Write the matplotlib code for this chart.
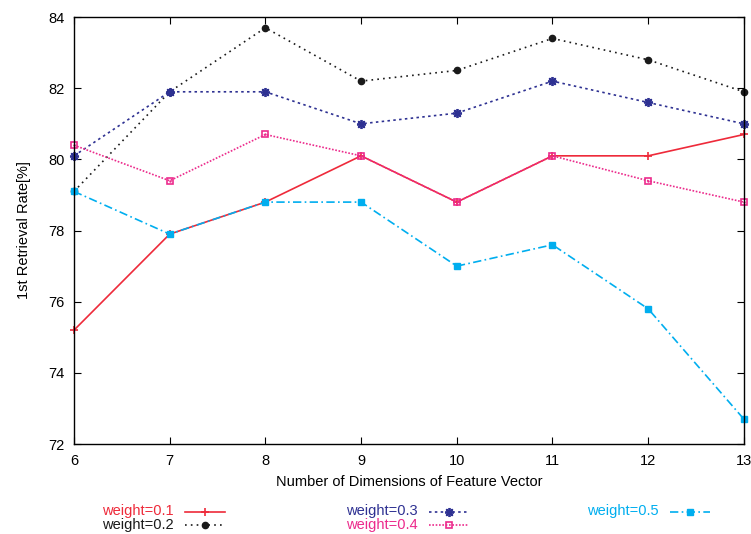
import matplotlib
matplotlib.use("Agg")
import matplotlib.pyplot as plt
from matplotlib.lines import Line2D

plt.rcParams['font.family'] = ['Liberation Sans', 'DejaVu Sans']

dims = [6, 7, 8, 9, 10, 11, 12, 13]
w01 = [75.2, 77.9, 78.8, 80.1, 78.8, 80.1, 80.1, 80.7]
w02 = [79.1, 81.9, 83.7, 82.2, 82.5, 83.4, 82.8, 81.9]
w03 = [80.1, 81.9, 81.9, 81.0, 81.3, 82.2, 81.6, 81.0]
w04 = [80.4, 79.4, 80.7, 80.1, 78.8, 80.1, 79.4, 78.8]
w05 = [79.1, 77.9, 78.8, 78.8, 77.0, 77.6, 75.8, 72.7]
labels = ['weight=0.1', 'weight=0.2', 'weight=0.3', 'weight=0.4', 'weight=0.5']

# colour, linestyle, marker, marker options
styles = [
    ('#ee2a3a', '-', '+', dict(markersize=6, markeredgewidth=1.2)),
    ('#1a1a1a', (0, (1, 2.5)), 'o', dict(markersize=4.5)),
    ('#2e3192', (0, (1.5, 2)), (8, 2, 0), dict(markersize=6.5, markeredgewidth=1.3)),
    ('#ec2b8c', (0, (1, 1)), 's', dict(markersize=5, markerfacecolor='none', markeredgewidth=1.2)),
    ('#00aeef', (0, (5, 2, 1, 2)), 's', dict(markersize=5)),
]

fig = plt.figure(figsize=(7.51, 5.34), dpi=100)
ax = fig.add_axes([0.0985, 0.1685, 0.892, 0.7995])

series = [w01, w02, w03, w04, w05]
for vals, lab, (c, ls, mk, kw) in zip(series, labels, styles):
    ax.plot(dims, vals, color=c, linestyle=ls, marker=mk, linewidth=1.2,
            label=lab, clip_on=False, **kw)
# pink squares have a small dot inside
ax.plot(dims, w04, linestyle='none', marker='.', markersize=1.5, color='#ec2b8c', clip_on=False)

ax.set_xlim(6, 13)
ax.set_ylim(72, 84)
ax.set_xticks(dims)
ax.set_yticks(range(72, 85, 2))
ax.tick_params(direction='in', top=True, right=True, length=5, width=0.8,
               labelsize=10.5, pad=7)
for s in ax.spines.values():
    s.set_linewidth(1.0)
ax.set_xlabel('Number of Dimensions of Feature Vector', fontsize=10.5, labelpad=5)
ax.set_ylabel('1st Retrieval Rate[%]', fontsize=10.5, labelpad=12)

# legend below the plot, gnuplot style: text right-aligned, sample to the right
pos = [(174, 511.5), (174, 525), (418, 511.5), (418, 525), (659, 511.5)]
W, H = 751.0, 534.0
for (px, py), lab, (c, ls, mk, kw) in zip(pos, labels, styles):
    fig.text(px / W, 1 - py / H, lab, color=c, fontsize=10.5, ha='right', va='center')
    x0, x1 = (px + 11) / W, (px + 51) / W
    yy = 1 - py / H
    fig.add_artist(Line2D([x0, x1], [yy, yy], color=c, linestyle=ls, linewidth=1.2,
                          transform=fig.transFigure))
    fig.add_artist(Line2D([(x0 + x1) / 2], [yy], color=c, linestyle='none', marker=mk,
                          transform=fig.transFigure, **kw))

fig.savefig('out.png', dpi=100)
